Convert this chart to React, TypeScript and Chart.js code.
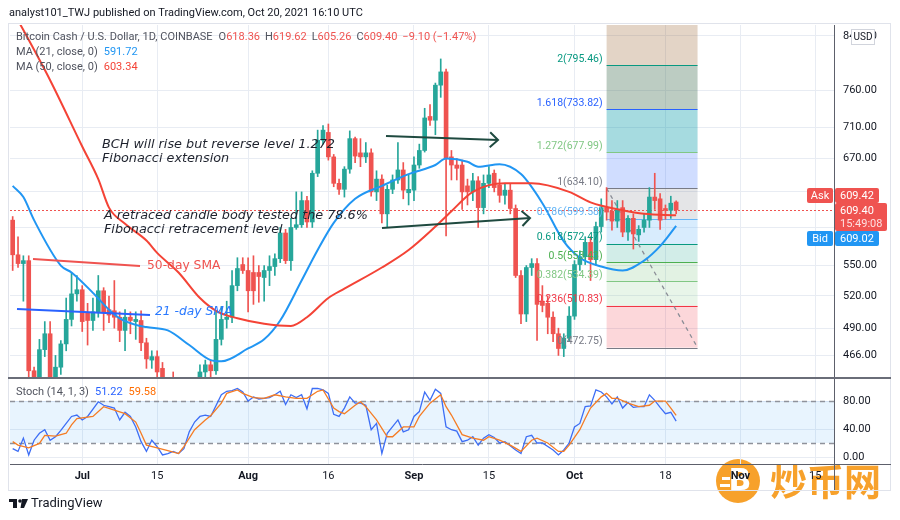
import React, { useEffect, useRef } from "react";
import { Chart, registerables } from "chart.js";

Chart.register(...registerables);

const FONT = 'Roboto, "Liberation Sans", sans-serif';
const UP = "#26a69a";
const DOWN = "#ef5350";
const GRID = "#e8ecf3";
const AXIS_TEXT = "#131722";

// ---- categories: one per day, Jun 18 2021 .. Nov 18 2021
const categories: string[] = [];
for (let i = 0; i < 154; i++) {
  categories.push(new Date(Date.UTC(2021, 5, 18 + i)).toISOString().slice(0, 10));
}

// ---- daily candles (Jun 18 .. Oct 20)
const opens = [
  598, 561, 552, 555, 453, 420, 471, 485, 430, 456,
  476, 498, 522, 526, 504, 497, 505, 525, 507, 506,
  500, 488, 500, 496, 497, 477, 462, 465, 455, 440,
  430, 425, 415, 420, 430, 440, 452, 458, 453, 480,
  498, 500, 530, 551, 545, 543, 543, 538, 545, 549,
  557, 584, 555, 590, 593, 620, 596, 652, 693, 703,
  672, 640, 633, 657, 695, 677, 672, 677, 630, 645,
  605, 633, 644, 656, 629, 632, 662, 680, 724, 719,
  767, 786, 672, 662, 662, 637, 630, 643, 612, 640,
  652, 638, 626, 632, 611, 540, 503, 548, 552, 515,
  513, 500, 485, 472, 481, 501, 551, 559, 574, 556,
  591, 612, 608, 597, 612, 585, 600, 582, 590, 598,
  624, 622, 611, 609, 618.36,
];
const highs = [
  602, 580, 560, 560, 456, 480, 496, 496, 466, 479,
  518, 543, 540, 530, 513, 518, 540, 528, 520, 535,
  505, 507, 505, 505, 506, 481, 470, 470, 460, 445,
  452, 435, 430, 440, 445, 458, 462, 462, 505, 510,
  515, 545, 558, 558, 558, 560, 550, 550, 560, 562,
  590, 588, 600, 630, 630, 625, 655, 706, 712, 714,
  675, 645, 660, 705, 697, 695, 690, 682, 655, 650,
  638, 650, 690, 665, 650, 672, 688, 735, 740, 770,
  805, 790, 680, 670, 668, 645, 652, 648, 650, 660,
  656, 645, 640, 640, 615, 545, 550, 557, 557, 530,
  520, 505, 490, 485, 510, 555, 565, 580, 580, 596,
  622, 635, 620, 620, 620, 603, 605, 592, 605, 635,
  652, 628, 615, 625, 619.62,
];
const lows = [
  545, 548, 515, 448, 400, 410, 465, 420, 425, 450,
  470, 492, 515, 487, 475, 488, 500, 488, 495, 490,
  478, 470, 485, 480, 470, 455, 455, 445, 430, 420,
  415, 405, 400, 415, 425, 435, 445, 445, 450, 475,
  490, 495, 525, 542, 505, 512, 514, 515, 530, 540,
  553, 552, 545, 588, 590, 590, 590, 648, 688, 668,
  636, 627, 624, 652, 665, 660, 665, 625, 620, 595,
  590, 628, 640, 622, 615, 620, 658, 678, 712, 700,
  750, 581, 644, 644, 610, 615, 620, 590, 605, 635,
  630, 618, 616, 605, 538, 494, 496, 540, 479, 505,
  485, 478, 466, 465, 478, 498, 545, 551, 535, 550,
  585, 598, 587, 590, 580, 576, 567, 575, 585, 590,
  610, 588, 599, 600, 605.26,
];
const closes = [
  561, 552, 555, 453, 420, 471, 485, 430, 456, 476,
  498, 522, 526, 496, 497, 505, 525, 505, 502, 500,
  488, 500, 497, 498, 477, 463, 465, 452, 440, 430,
  425, 415, 420, 430, 440, 452, 458, 453, 480, 498,
  500, 530, 547, 545, 525, 525, 539, 545, 549, 557,
  584, 555, 590, 593, 620, 596, 652, 693, 706, 672,
  640, 633, 657, 695, 673, 672, 677, 630, 645, 605,
  633, 644, 656, 632, 633, 662, 680, 722, 719, 767,
  786, 670, 662, 658, 630, 630, 643, 612, 640, 650,
  635, 626, 632, 611, 540, 503, 548, 552, 512, 511,
  500, 485, 472, 481, 501, 551, 559, 574, 556, 591,
  612, 607, 597, 610, 585, 600, 583, 588, 598, 624,
  620, 598, 609, 617, 609.40,
];

// ---- moving averages: [dayIndex, value]
const ma21Points: [number, number][] = [
  [0, 637], [2, 624], [4, 598], [9, 550], [11, 543], [15, 523], [18, 507], [20, 499],
  [23, 493], [25, 491], [29, 488], [33, 475], [37, 462], [39, 461], [44, 472], [47, 480],
  [50, 497], [54, 535], [57, 566], [60, 595], [64, 622], [69, 637], [74, 651], [79, 662],
  [81, 670], [85, 666], [87, 660], [91, 663], [95, 651], [99, 617], [103, 575], [106, 558],
  [110, 549], [114, 545], [118, 555], [121, 570], [124, 591.72],
];
const ma50Points: [number, number][] = [
  [0, 880], [2, 849], [7, 774], [13, 685], [16, 645], [18, 612], [21, 594], [25, 576],
  [27, 563], [31, 543], [35, 518], [38, 506], [42, 499], [47, 494], [52, 492], [55, 500],
  [59, 518], [62, 527], [69, 548], [74, 566], [79, 591], [82, 608], [86, 630], [92, 640],
  [97, 640], [104, 630], [108, 618], [114, 609], [118, 605], [124, 603.34],
];

// ---- stochastic (14, 1, 3): [dayIndex, value]
const stochK: [number, number][] = [
  [0, 12], [1, 8], [2, 27], [3, 3], [4, 24], [5, 34], [6, 39], [7, 24], [8, 29], [9, 38],
  [10, 48], [11, 58], [12, 60], [13, 53], [14, 58], [16, 79], [17, 74], [18, 72], [19, 70],
  [20, 53], [21, 64], [22, 58], [23, 43], [24, 22], [25, 8], [26, 24], [27, 15], [28, 3],
  [29, 5], [30, 8], [31, 5], [32, 12], [33, 36], [34, 50], [35, 58], [36, 60], [37, 58],
  [39, 89], [40, 94], [41, 95], [42, 98], [43, 93], [44, 80], [45, 86], [46, 83], [48, 85],
  [49, 89], [50, 94], [51, 75], [52, 89], [53, 85], [54, 89], [55, 69], [56, 98], [57, 98],
  [58, 96], [59, 91], [60, 61], [61, 58], [62, 70], [63, 86], [64, 77], [65, 77], [66, 74],
  [67, 39], [68, 48], [69, 5], [70, 34], [72, 53], [73, 36], [74, 39], [75, 58], [76, 65],
  [77, 93], [78, 81], [79, 97], [80, 91], [81, 43], [82, 39], [83, 37], [84, 22], [85, 24],
  [86, 29], [87, 17], [88, 27], [89, 32], [90, 28], [91, 20], [92, 22], [94, 10], [95, 5],
  [96, 29], [97, 31], [98, 20], [99, 20], [101, 10], [102, 3], [103, 10], [104, 20],
  [105, 43], [106, 48], [107, 72], [108, 73], [109, 96], [110, 93], [111, 86], [112, 76],
  [113, 86], [114, 70], [115, 78], [116, 71], [117, 72], [118, 72], [119, 89], [120, 81],
  [121, 71], [122, 62], [123, 64], [124, 51.22],
];
const stochD: [number, number][] = [
  [0, 22], [1, 17], [3, 13], [5, 19.5], [6, 31], [8, 30], [10, 34], [11, 46], [12, 55],
  [15, 58], [17, 72], [19, 67], [21, 62], [23, 50], [24, 34], [25, 17], [27, 13], [29, 9],
  [31, 5], [32, 15], [34, 39], [36, 53], [37, 59], [39, 77], [40, 91], [42, 96], [43, 91],
  [45, 85], [47, 84], [49, 89], [51, 86], [53, 84], [55, 84], [57, 94], [58, 96], [60, 70],
  [61, 65], [62, 62], [64, 74], [65, 79], [66, 72], [68, 53], [70, 29], [71, 29], [73, 43],
  [75, 43], [76, 58], [78, 77], [80, 89], [81, 72], [82, 60], [84, 32], [86, 27], [88, 24],
  [89, 29], [91, 24], [93, 17], [95, 8], [97, 24], [98, 27], [100, 20], [102, 8], [103, 8],
  [104, 17], [106, 39], [107, 55], [108, 70], [110, 86], [111, 91], [112, 84], [113, 84],
  [115, 77], [117, 72], [119, 74], [120, 80], [122, 80], [123, 70], [124, 59.58],
];

// ---- axes
const priceTicks = [466, 490, 520, 550, 590, 630, 670, 710, 760, 840];
const hiddenPriceTicks = [590, 630];
const stochTicks = [0, 40, 80];
const xTickDays = [13, 27, 44, 59, 75, 89, 105, 122, 136, 150];
const xTickLabels = ["Jul", "15", "Aug", "16", "Sep", "15", "Oct", "18", "Nov", "15"];
const monthLabels = ["Jul", "Aug", "Sep", "Oct", "Nov"];

// ---- Fibonacci tool
const fibLevels = ["0", "0.236", "0.382", "0.5", "0.618", "0.786", "1", "1.272", "1.618", "2"];
const fibPrices = [472.75, 510.83, 534.39, 553.43, 572.47, 599.58, 634.10, 677.99, 733.82, 795.46];
const fibLineColors = ["#787b86", "#f23645", "#81c784", "#4caf50", "#089981", "#64b5f6", "#787b86", "#81c784", "#2962ff", "#089981"];
const fibZoneColors = [
  "rgba(242,54,69,0.2)", "rgba(129,199,132,0.18)", "rgba(76,175,80,0.16)", "rgba(8,153,129,0.18)",
  "rgba(100,181,246,0.25)", "rgba(120,123,134,0.2)", "rgba(41,98,255,0.22)", "rgba(0,151,167,0.35)",
  "rgba(80,120,95,0.38)", "rgba(156,100,50,0.28)",
];
const fibStartDay = 111;
const fibEndDay = 128;

const lastPrice = 609.40;

function txt(ctx: any, s: string, x: number, y: number, font: string, color: string, align = "left", baseline = "middle") {
  ctx.font = font;
  ctx.fillStyle = color;
  ctx.textAlign = align;
  ctx.textBaseline = baseline;
  ctx.fillText(s, x, y);
}

function seq(ctx: any, x: number, y: number, font: string, parts: [string, string, number][]) {
  ctx.font = font;
  ctx.textBaseline = "middle";
  ctx.textAlign = "left";
  let cx = x;
  for (const [s, c, gap] of parts) {
    ctx.fillStyle = c;
    ctx.fillText(s, cx, y);
    cx += ctx.measureText(s).width + gap;
  }
}

function arrow(ctx: any, x0: number, y0: number, x1: number, y1: number) {
  ctx.beginPath();
  ctx.moveTo(x0, y0);
  ctx.lineTo(x1, y1);
  ctx.stroke();
  const a = Math.atan2(y1 - y0, x1 - x0);
  const L = 11;
  ctx.beginPath();
  ctx.moveTo(x1 - L * Math.cos(a - 0.75), y1 - L * Math.sin(a - 0.75));
  ctx.lineTo(x1, y1);
  ctx.lineTo(x1 - L * Math.cos(a + 0.75), y1 - L * Math.sin(a + 0.75));
  ctx.stroke();
}

function roundRect(ctx: any, x: number, y: number, w: number, h: number, r: number, fill: string) {
  ctx.beginPath();
  ctx.moveTo(x + r, y);
  ctx.arcTo(x + w, y, x + w, y + h, r);
  ctx.arcTo(x + w, y + h, x, y + h, r);
  ctx.arcTo(x, y + h, x, y, r);
  ctx.arcTo(x, y, x + w, y, r);
  ctx.closePath();
  ctx.fillStyle = fill;
  ctx.fill();
}

const mainDeco = {
  id: "mainDeco",
  beforeDraw(chart: any) {
    const ctx = chart.ctx;
    ctx.save();
    ctx.fillStyle = "#ffffff";
    ctx.fillRect(0, 0, chart.width, chart.height);
    ctx.restore();
  },
  beforeDatasetsDraw(chart: any) {
    const { ctx, chartArea: ca } = chart;
    const x = chart.scales.x;
    const y = chart.scales.y;
    ctx.save();
    ctx.beginPath();
    ctx.rect(ca.left, ca.top, ca.right - ca.left, ca.bottom - ca.top);
    ctx.clip();
    const x0 = x.getPixelForValue(fibStartDay);
    const x1 = x.getPixelForValue(fibEndDay);
    for (let i = 0; i < fibPrices.length; i++) {
      const yb = y.getPixelForValue(fibPrices[i]);
      const yt = i < fibPrices.length - 1 ? y.getPixelForValue(fibPrices[i + 1]) : ca.top;
      ctx.fillStyle = fibZoneColors[i];
      ctx.fillRect(x0, yt, x1 - x0, yb - yt);
    }
    ctx.lineWidth = 1;
    for (let i = 0; i < fibPrices.length; i++) {
      const yy = Math.round(y.getPixelForValue(fibPrices[i])) + 0.5;
      ctx.strokeStyle = fibLineColors[i];
      ctx.beginPath();
      ctx.moveTo(x0, yy);
      ctx.lineTo(x1, yy);
      ctx.stroke();
    }
    ctx.setLineDash([4, 4]);
    ctx.strokeStyle = "#8a8d96";
    ctx.lineWidth = 1.3;
    ctx.beginPath();
    ctx.moveTo(x0, y.getPixelForValue(fibPrices[6]));
    ctx.lineTo(x1, y.getPixelForValue(fibPrices[0]));
    ctx.stroke();
    // current price dotted line
    ctx.setLineDash([2, 2]);
    ctx.strokeStyle = "#ef5350";
    ctx.lineWidth = 1;
    const py = Math.round(y.getPixelForValue(lastPrice)) + 0.5;
    ctx.beginPath();
    ctx.moveTo(ca.left, py);
    ctx.lineTo(ca.right, py);
    ctx.stroke();
    ctx.restore();
  },
  afterDatasetsDraw(chart: any) {
    const { ctx } = chart;
    const x = chart.scales.x;
    const y = chart.scales.y;
    ctx.save();
    // fib labels
    const lx = x.getPixelForValue(fibStartDay) - 4;
    for (let i = 0; i < fibPrices.length; i++) {
      const yy = y.getPixelForValue(fibPrices[i]);
      txt(ctx, `${fibLevels[i]}(${fibPrices[i].toFixed(2)})`, lx, yy - 6, `10.5px ${FONT}`, fibLineColors[i], "right");
    }
    // annotations
    const af = 'italic 12.8px "DejaVu Sans", sans-serif';
    txt(ctx, "BCH will rise but reverse level 1.272", 102, 145, af, "#1e222d");
    txt(ctx, "Fibonacci extension", 102, 159, af, "#1e222d");
    txt(ctx, "A retraced candle body tested the 78.6%", 104, 216, af, "#1e222d");
    txt(ctx, "Fibonacci retracement level", 104, 230, af, "#1e222d");
    txt(ctx, "50-day SMA", 147, 266, '12.3px "DejaVu Sans", sans-serif', "#ef5350");
    txt(ctx, "21 -day SMA", 155, 312, 'italic 12.3px "DejaVu Sans", sans-serif', "#2979ff");
    ctx.lineWidth = 2;
    ctx.strokeStyle = "#ef5350";
    ctx.beginPath();
    ctx.moveTo(33, 259);
    ctx.lineTo(140, 266);
    ctx.stroke();
    ctx.strokeStyle = "#2962ff";
    ctx.beginPath();
    ctx.moveTo(17, 309);
    ctx.lineTo(150, 315);
    ctx.stroke();
    ctx.strokeStyle = "#1f4a40";
    ctx.lineWidth = 2;
    arrow(ctx, 386, 136, 498, 140);
    arrow(ctx, 382, 228, 530, 218);
    ctx.restore();
  },
};

const stochDeco = {
  id: "stochDeco",
  beforeDraw(chart: any) {
    const ctx = chart.ctx;
    ctx.save();
    // watermark
    ctx.fillStyle = "#f7a12b";
    ctx.beginPath();
    ctx.arc(738, 481, 22, 0, Math.PI * 2);
    ctx.fill();
    txt(ctx, "B", 740, 482, 'bold 30px "DejaVu Sans", sans-serif', "#ffffff", "center");
    ctx.fillStyle = "#ffffff";
    ctx.fillRect(722, 477, 8, 3);
    ctx.fillRect(720, 484, 10, 3);
    txt(ctx, "炒币网", 770, 482, 'bold 37px "Noto Sans CJK SC", sans-serif', "#f7a12b", "left");
    ctx.restore();
  },
  beforeDatasetsDraw(chart: any) {
    const { ctx, chartArea: ca } = chart;
    const y = chart.scales.y;
    ctx.save();
    const y80 = y.getPixelForValue(80);
    const y20 = y.getPixelForValue(20);
    ctx.fillStyle = "rgba(33,150,243,0.1)";
    ctx.fillRect(ca.left, y80, ca.right - ca.left, y20 - y80);
    ctx.setLineDash([5, 4]);
    ctx.strokeStyle = "#8f929b";
    ctx.lineWidth = 1.3;
    for (const yy of [y80, y20]) {
      ctx.beginPath();
      ctx.moveTo(ca.left, Math.round(yy) + 0.5);
      ctx.lineTo(ca.right, Math.round(yy) + 0.5);
      ctx.stroke();
    }
    ctx.restore();
  },
  afterDraw(chart: any) {
    const ctx = chart.ctx;
    ctx.save();
    // frame
    ctx.strokeStyle = "#e0e3eb";
    ctx.lineWidth = 1;
    ctx.strokeRect(8.5, 23.5, 882, 467);
    // pane separator and axis lines
    ctx.fillStyle = "#6a6d78";
    ctx.fillRect(8, 377, 883, 2);
    ctx.fillStyle = "#5d606b";
    ctx.fillRect(834, 464, 57, 1);
    ctx.fillRect(834, 464, 1, 26);
    // header
    txt(ctx, "analyst101_TWJ published on TradingView.com, Oct 20, 2021 16:10 UTC", 9, 13, `11px ${FONT}`, "#131722");
    const hf = `11px ${FONT}`;
    const g = "#50535e";
    const r = "#ef5350";
    seq(ctx, 16, 37, hf, [
      ["Bitcoin Cash / U.S. Dollar, 1D, COINBASE", g, 6],
      ["O", g, 0], ["618.36", r, 5],
      ["H", g, 0], ["619.62", r, 5],
      ["L", g, 0], ["605.26", r, 5],
      ["C", g, 0], ["609.40", r, 5],
      ["\u22129.10 (\u22121.47%)", r, 0],
    ]);
    seq(ctx, 16, 52, hf, [["MA (21, close, 0)", g, 6], ["591.72", "#2196f3", 0]]);
    seq(ctx, 16, 67, hf, [["MA (50, close, 0)", g, 6], ["603.34", "#f44336", 0]]);
    seq(ctx, 16, 392, hf, [["Stoch (14, 1, 3)", g, 6], ["51.22", "#2962ff", 6], ["59.58", "#ff6d00", 0]]);
    // USD box
    ctx.fillStyle = "#ffffff";
    ctx.fillRect(851, 29, 24, 16);
    ctx.strokeStyle = "#d1d4dc";
    ctx.strokeRect(851.5, 29.5, 23, 15);
    txt(ctx, "USD", 863, 37.5, `10px ${FONT}`, "#131722", "center");
    // badges
    roundRect(ctx, 807, 188, 26, 15, 2, "#ef5350");
    txt(ctx, "Ask", 820, 196, hf, "#ffffff", "center");
    roundRect(ctx, 835, 188, 44, 15, 2, "#ef5350");
    txt(ctx, "609.42", 840, 196, hf, "#ffffff");
    roundRect(ctx, 835, 203, 52, 28, 2, "#ef5350");
    txt(ctx, "609.40", 840, 211, hf, "#ffffff");
    txt(ctx, "15:49:08", 840, 224, hf, "#fde0e0");
    roundRect(ctx, 807, 231, 26, 15, 2, "#2196f3");
    txt(ctx, "Bid", 820, 239, hf, "#ffffff", "center");
    roundRect(ctx, 835, 231, 44, 15, 2, "#2196f3");
    txt(ctx, "609.02", 840, 239, hf, "#ffffff");
    // TradingView logo
    ctx.fillStyle = "#131722";
    ctx.fillRect(9, 499, 8, 3);
    ctx.fillRect(13, 499, 4, 9);
    ctx.beginPath();
    ctx.arc(20, 501, 1.8, 0, Math.PI * 2);
    ctx.fill();
    ctx.beginPath();
    ctx.moveTo(22, 499);
    ctx.lineTo(28, 499);
    ctx.lineTo(24, 508);
    ctx.lineTo(20.5, 508);
    ctx.closePath();
    ctx.fill();
    txt(ctx, "TradingView", 31, 504, `13px ${FONT}`, "#131722");
    ctx.restore();
  },
};

const xScaleBase = (showLabels: boolean) => ({
  offset: true,
  grid: { offset: false, color: GRID, drawTicks: false },
  border: { display: showLabels, color: "#5d606b" },
  afterBuildTicks: (s: any) => {
    s.ticks = xTickDays.map((v) => ({ value: v }));
  },
  afterFit: (s: any) => {
    s.height = showLabels ? 24 : 0;
  },
  ticks: {
    display: showLabels,
    autoSkip: false,
    maxRotation: 0,
    padding: 6,
    color: AXIS_TEXT,
    font: (c: any) => ({
      family: FONT,
      size: 11,
      weight: monthLabels.includes(xTickLabels[c.index]) ? "bold" : "normal",
    }),
    callback: (_v: any, i: number) => xTickLabels[i],
  },
});

function mainConfig(): any {
  const colors = closes.map((c, i) => (c >= opens[i] ? UP : DOWN));
  return {
    type: "bar",
    data: {
      labels: categories,
      datasets: [
        {
          type: "line",
          data: ma50Points.map(([d, v]) => ({ x: categories[d], y: v })),
          borderColor: "#f44336",
          borderWidth: 2,
          pointRadius: 0,
          cubicInterpolationMode: "monotone",
          order: 0,
        },
        {
          type: "line",
          data: ma21Points.map(([d, v]) => ({ x: categories[d], y: v })),
          borderColor: "#2196f3",
          borderWidth: 2,
          pointRadius: 0,
          cubicInterpolationMode: "monotone",
          order: 0,
        },
        {
          type: "bar",
          data: opens.map((o, i) => [Math.min(o, closes[i]), Math.max(o, closes[i])]),
          backgroundColor: colors,
          barThickness: 4,
          minBarLength: 1,
          grouped: false,
          order: 1,
        },
        {
          type: "bar",
          data: lows.map((l, i) => [l, highs[i]]),
          backgroundColor: colors,
          barThickness: 1,
          grouped: false,
          order: 2,
        },
      ],
    },
    options: {
      animation: false,
      responsive: false,
      devicePixelRatio: 1,
      layout: { padding: { left: 10, right: 10, top: 25, bottom: 142 } },
      plugins: { legend: { display: false }, tooltip: { enabled: false } },
      scales: {
        x: xScaleBase(false),
        y: {
          type: "logarithmic",
          position: "right",
          min: 447,
          max: 857,
          afterBuildTicks: (s: any) => {
            s.ticks = priceTicks.map((v) => ({ value: v }));
          },
          afterFit: (s: any) => {
            s.width = 56;
          },
          grid: { color: GRID, drawTicks: false },
          border: { display: true, color: "#5d606b" },
          ticks: {
            padding: 9,
            color: AXIS_TEXT,
            font: { family: FONT, size: 11 },
            callback: (v: number) => (hiddenPriceTicks.includes(v) ? "" : Number(v).toFixed(2)),
          },
        },
      },
    },
    plugins: [mainDeco],
  };
}

function stochConfig(): any {
  return {
    type: "line",
    data: {
      labels: categories,
      datasets: [
        {
          data: stochD.map(([d, v]) => ({ x: categories[d], y: v })),
          borderColor: "#f57c24",
          borderWidth: 1.3,
          pointRadius: 0,
          tension: 0,
        },
        {
          data: stochK.map(([d, v]) => ({ x: categories[d], y: v })),
          borderColor: "#3d6ef5",
          borderWidth: 1.3,
          pointRadius: 0,
          tension: 0,
        },
      ],
    },
    options: {
      animation: false,
      responsive: false,
      devicePixelRatio: 1,
      layout: { padding: { left: 10, right: 10, top: 378, bottom: 32 } },
      plugins: { legend: { display: false }, tooltip: { enabled: false } },
      scales: {
        x: xScaleBase(true),
        y: {
          type: "linear",
          position: "right",
          min: -10,
          max: 113,
          afterBuildTicks: (s: any) => {
            s.ticks = stochTicks.map((v) => ({ value: v }));
          },
          afterFit: (s: any) => {
            s.width = 56;
          },
          grid: { color: GRID, drawTicks: false },
          border: { display: true, color: "#5d606b" },
          ticks: {
            padding: 9,
            color: AXIS_TEXT,
            font: { family: FONT, size: 11 },
            callback: (v: number) => Number(v).toFixed(2),
          },
        },
      },
    },
    plugins: [stochDeco],
  };
}

export default function App() {
  const mainRef = useRef<HTMLCanvasElement>(null);
  const stochRef = useRef<HTMLCanvasElement>(null);
  useEffect(() => {
    const main = new Chart(mainRef.current as HTMLCanvasElement, mainConfig());
    const st = new Chart(stochRef.current as HTMLCanvasElement, stochConfig());
    return () => {
      main.destroy();
      st.destroy();
    };
  }, []);
  return (
    <div style={{ position: "fixed", left: 0, top: 0, width: 900, height: 520, background: "#fff" }}>
      <canvas ref={mainRef} width={900} height={520} style={{ position: "absolute", left: 0, top: 0 }} />
      <canvas ref={stochRef} width={900} height={520} style={{ position: "absolute", left: 0, top: 0 }} />
    </div>
  );
}
